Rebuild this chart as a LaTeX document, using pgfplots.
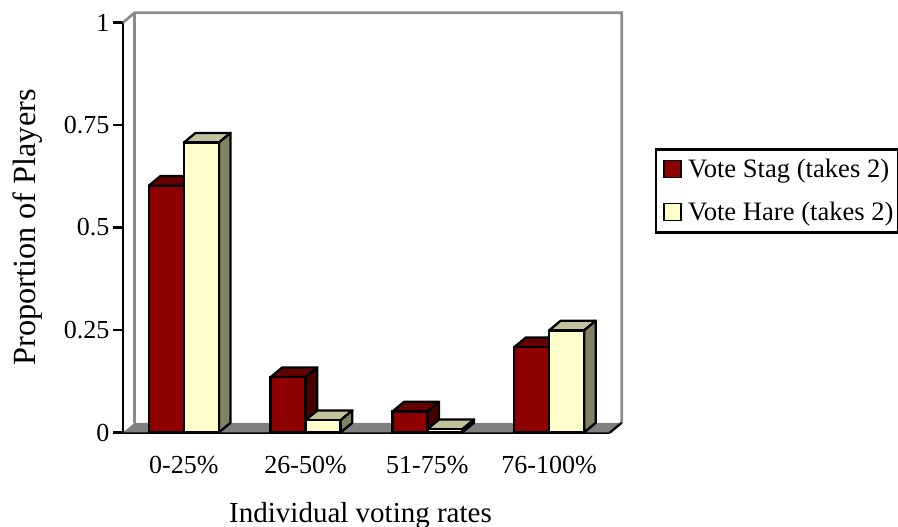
\documentclass[border=0pt]{standalone}
\usepackage{fontspec}
\setmainfont{Liberation Serif}
\usepackage{pgfplots}
\usepackage{pgfplotstable}
\pgfplotsset{compat=1.18}

\definecolor{stag}{HTML}{8F0000}
\definecolor{stagtop}{HTML}{660000}
\definecolor{stagside}{HTML}{470000}
\definecolor{hare}{HTML}{FFFFCC}
\definecolor{haretop}{HTML}{C2C29C}
\definecolor{hareside}{HTML}{808063}
\definecolor{wallgrey}{HTML}{8C8C8C}
\definecolor{floorgrey}{HTML}{808080}

\pgfplotstableread{
x y
0 0.602
1 0.135
2 0.051
3 0.208
}\stagdata
\pgfplotstableread{
x y
0 0.707
1 0.030
2 0.008
3 0.249
}\haredata

% depth of the fake 3d look, in axis units
\newcommand\barbox[5]{% left, right, value, top colour, side colour
  \pgfmathsetmacro\xa{#1+0.096}
  \pgfmathsetmacro\xb{#2+0.096}
  \pgfmathsetmacro\yb{#3+0.0237}
  \addplot[forget plot, line width=2.3pt, line join=round, draw=black, fill=#4]
    coordinates {(#1,#3) (\xa,\yb) (\xb,\yb) (#2,#3)} --cycle;
  \addplot[forget plot, line width=2.3pt, line join=round, draw=black, fill=#5]
    coordinates {(#2,#3) (\xb,\yb) (\xb,0.0237) (#2,0)} --cycle;
}

\begin{document}
\begin{tikzpicture}[x=1pt,y=1pt]
\path[use as bounding box] (0,0) rectangle (898,527);
\begin{axis}[
    at={(123pt,94.5pt)},
    anchor=south west,
    scale only axis,
    width=487pt,
    height=410pt,
    clip=false,
    xmin=-0.5, xmax=3.5,
    ymin=0, ymax=1,
    axis x line=bottom,
    axis y line=left,
    axis line style={line width=2.3pt, black, -},
    xtick={0,1,2,3},
    xticklabels={0-25\%,26-50\%,51-75\%,76-100\%},
    minor xtick={-0.5,0.5,1.5,2.5,3.5},
    ytick={0,0.25,0.5,0.75,1},
    /pgf/number format/.cd, fixed, precision=2, assume math mode=true,
    /pgfplots/.cd,
    tick align=outside,
    x tick style={draw=none},
    minor x tick style={black, line width=2.3pt},
    minor tick length=9pt,
    y tick style={black, line width=2.3pt},
    major tick length=10pt,
    tick label style={font=\fontsize{26}{30}\selectfont},
    xticklabel style={yshift=-10pt},
    every axis x label/.style={at={(axis description cs:0.5,0)}, anchor=center, xshift=-6pt, yshift=-83pt, font=\fontsize{29}{32}\selectfont},
    every axis y label/.style={at={(axis description cs:-0.195,0.5)}, anchor=center, rotate=90, font=\fontsize{32.3}{36}\selectfont},
    xlabel={Individual voting rates},
    ylabel={Proportion of Players},
    legend style={
        at={(axis cs:3.87,0.693)}, anchor=north west,
        draw=black, line width=2.3pt,
        font=\fontsize{26.6}{30}\selectfont,
        inner xsep=3pt, inner ysep=8pt,
        row sep=19pt,
    },
    legend cell align=left,
    legend image code/.code={\path (-4pt,0pt) (20.5pt,0pt); \draw[#1, line width=1.8pt] (0pt,-8pt) rectangle (17pt,9pt);},
]
% floor and back wall
\addplot[forget plot, draw=none, fill=floorgrey]
    coordinates {(-0.5,0) (-0.404,0.0237) (3.596,0.0237) (3.5,0)} --cycle;
\addplot[forget plot, line width=2.8pt, wallgrey]
    coordinates {(-0.5,1) (-0.404,1.0237) (3.596,1.0237) (3.596,0.0237)};
\addplot[forget plot, line width=2.8pt, wallgrey]
    coordinates {(-0.404,1.0237) (-0.404,0.0237)};
\addplot[forget plot, line width=2.3pt, black]
    coordinates {(3.5,0) (3.596,0.0237)};
% stag, drawn first so the hare bars overlap its side
\barbox{-0.2875}{0}{0.602}{stagtop}{stagside}
\barbox{0.7125}{1}{0.135}{stagtop}{stagside}
\barbox{1.7125}{2}{0.051}{stagtop}{stagside}
\barbox{2.7125}{3}{0.208}{stagtop}{stagside}
\addplot[ybar, bar width=0.2875, bar shift=-0.14375, draw=black, line width=2.3pt, fill=stag]
    table[x=x,y=y] {\stagdata};
\addlegendentry{Vote Stag (takes 2)}
\barbox{0}{0.2875}{0.707}{haretop}{hareside}
\barbox{1}{1.2875}{0.030}{haretop}{hareside}
\barbox{2}{2.2875}{0.008}{haretop}{hareside}
\barbox{3}{3.2875}{0.249}{haretop}{hareside}
\addplot[ybar, bar width=0.2875, bar shift=0.14375, draw=black, line width=2.3pt, fill=hare]
    table[x=x,y=y] {\haredata};
\addlegendentry{Vote Hare (takes 2)}
\end{axis}
\end{tikzpicture}
\end{document}
